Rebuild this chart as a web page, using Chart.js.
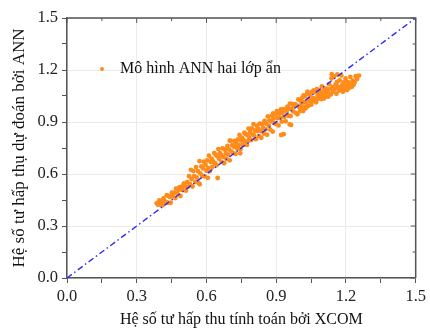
<!DOCTYPE html>
<html>
<head>
<meta charset="utf-8">
<script src="https://cdn.jsdelivr.net/npm/chart.js@4.4.0/dist/chart.umd.min.js"></script>
<style>
  body { margin: 0; background: #fff; }
  #wrap { width: 430px; height: 329px; }
</style>
</head>
<body>
<div id="wrap"><canvas id="annChart" width="430" height="329"></canvas></div>
<script>
// XCOM values (x) and ANN predictions (y)
const xcom = [
  0.386,0.391,0.397,0.402,0.404,0.411,0.415,0.418,0.424,0.429,0.432,0.437,0.443,0.446,0.451,
  0.455,0.462,0.466,0.469,0.474,0.480,0.483,0.488,0.494,0.497,0.503,0.508,0.512,0.517,0.521,
  0.525,0.529,0.533,0.536,0.540,0.544,0.547,0.552,0.555,0.558,0.563,0.566,0.570,0.573,0.578,
  0.581,0.585,0.589,0.592,0.596,0.600,0.603,0.607,0.611,0.614,0.618,0.622,0.625,0.629,0.633,
  0.637,0.640,0.644,0.647,0.651,0.654,0.658,0.648,0.606,0.571,
  0.662,0.665,0.669,0.672,0.676,0.679,0.683,0.686,0.690,0.693,0.697,0.700,0.704,0.707,0.711,
  0.714,0.718,0.721,0.725,0.728,0.732,0.735,0.739,0.742,0.746,0.749,0.753,0.756,0.760,0.763,
  0.767,0.770,0.774,0.777,0.781,0.784,0.788,0.791,0.795,0.798,0.802,0.805,0.809,0.812,0.816,
  0.819,0.700,0.745,0.781,0.727,
  0.822,0.826,0.829,0.833,0.836,0.840,0.843,0.847,0.850,0.854,0.857,0.861,0.864,0.868,0.871,
  0.875,0.878,0.882,0.885,0.889,0.892,0.896,0.899,0.903,0.906,0.910,0.913,0.917,0.920,0.924,
  0.927,0.931,0.934,0.938,0.941,0.945,0.948,0.952,0.955,0.959,0.962,0.966,0.969,0.973,0.976,
  0.921,0.932,0.964,0.958,0.887,
  0.981,0.984,0.988,0.991,0.995,0.998,1.002,1.005,1.009,1.012,1.016,1.019,1.023,1.026,1.030,
  1.033,1.037,1.040,1.044,1.047,1.051,1.054,1.058,1.061,1.065,1.068,1.072,1.075,1.079,1.082,
  1.086,1.089,1.093,1.096,1.100,1.103,1.107,1.110,1.114,1.117,1.008,1.027,1.049,1.071,1.092,
  1.035,1.062,1.018,1.084,1.105,
  1.121,1.124,1.128,1.131,1.135,1.138,1.142,1.145,1.149,1.152,1.156,1.159,1.163,1.166,1.170,
  1.173,1.177,1.180,1.184,1.187,1.191,1.194,1.198,1.201,1.205,1.208,1.212,1.215,1.219,1.222,
  1.226,1.229,1.233,1.237,1.242,1.248,1.256,1.139,1.162,1.181
];
const ann = [
  0.431,0.423,0.448,0.422,0.442,0.419,0.459,0.445,0.439,0.478,0.434,0.473,0.467,0.434,0.492,
  0.473,0.492,0.461,0.516,0.487,0.506,0.522,0.473,0.527,0.507,0.546,0.529,0.504,0.553,0.527,
  0.587,0.543,0.624,0.571,0.528,0.617,0.588,0.555,0.640,0.580,0.617,0.548,0.674,0.604,0.644,
  0.590,0.632,0.671,0.586,0.654,0.619,0.679,0.635,0.706,0.616,0.669,0.689,0.641,0.672,0.721,
  0.662,0.711,0.651,0.703,0.744,0.688,0.720,0.577,0.578,0.541,
  0.710,0.671,0.748,0.699,0.662,0.740,0.719,0.687,0.762,0.712,0.742,0.679,0.792,0.731,0.766,
  0.722,0.757,0.791,0.716,0.777,0.747,0.799,0.768,0.825,0.743,0.793,0.810,0.768,0.795,0.838,
  0.788,0.830,0.768,0.824,0.862,0.810,0.841,0.795,0.863,0.829,0.888,0.822,0.851,0.801,0.879,
  0.847,0.792,0.719,0.793,0.760,
  0.863,0.818,0.891,0.848,0.809,0.889,0.866,0.833,0.906,0.858,0.890,0.826,0.932,0.879,0.909,
  0.856,0.904,0.936,0.844,0.920,0.894,0.943,0.888,0.963,0.923,0.880,0.949,0.925,0.972,0.902,
  0.952,0.974,0.929,0.969,0.904,0.959,0.988,0.936,0.977,1.006,0.934,0.975,1.003,0.961,0.994,
  0.825,0.830,0.883,0.886,0.950,
  1.003,0.953,0.996,0.944,1.030,0.986,0.963,1.022,0.987,1.041,0.963,1.015,1.047,0.990,1.015,
  1.064,0.993,1.032,1.056,1.018,1.000,1.073,1.038,1.020,1.071,1.035,1.014,1.089,1.054,1.035,
  1.083,1.051,1.032,1.105,1.070,1.051,1.091,1.067,1.047,1.093,0.998,0.979,1.018,1.025,1.037,
  1.075,1.083,1.053,1.072,1.035,
  1.072,1.046,1.118,1.088,1.059,1.152,1.101,1.075,1.163,1.092,1.118,1.063,1.174,1.104,1.081,
  1.140,1.097,1.168,1.112,1.074,1.129,1.093,1.151,1.107,1.084,1.131,1.117,1.098,1.160,1.122,
  1.104,1.138,1.115,1.129,1.164,1.148,1.168,1.176,1.132,1.089
];

// y = x reference line
const refLine = [0, 1.5];

// ticks: labelled every 0.3, minor every 0.15
const tickValues = [0, 0.15, 0.3, 0.45, 0.6, 0.75, 0.9, 1.05, 1.2, 1.35, 1.5];
const majorTicks = [0, 0.3, 0.6, 0.9, 1.2, 1.5];

const legendText = 'Mô hình ANN hai lớp ẩn';
const xTitle = 'Hệ số tư hấp thu tính toán bởi XCOM';
const yTitle = 'Hệ số tư hấp thụ dự đoán bởi ANN';

const serif = "'Liberation Serif', 'Times New Roman', serif";
const orange = 'rgb(255,140,26)';

function isMajor(v) {
  return majorTicks.some(m => Math.abs(m - v) < 1e-6);
}

document.addEventListener("DOMContentLoaded", function () {
  const ctx = document.getElementById('annChart').getContext('2d');

  const points = xcom.map((x, i) => ({ x: x, y: ann[i] }));

  // frame on top/right with inward ticks + legend inside the plot
  const framePlugin = {
    id: 'frame',
    afterDatasetsDraw(chart) {
      const c = chart.ctx;
      const a = chart.chartArea;
      const xs = chart.scales.x, ys = chart.scales.y;
      c.save();
      c.strokeStyle = '#555';
      c.lineWidth = 1.5;
      c.beginPath();
      c.moveTo(a.left, a.top); c.lineTo(a.right, a.top); c.lineTo(a.right, a.bottom);
      c.stroke();
      c.lineWidth = 1;
      tickValues.forEach(v => {
        const len = isMajor(v) ? 5 : 3;
        const px = xs.getPixelForValue(v);
        const py = ys.getPixelForValue(v);
        c.beginPath();
        c.moveTo(px, a.top); c.lineTo(px, a.top + len);
        c.moveTo(a.right, py); c.lineTo(a.right - len, py);
        c.stroke();
      });
      // legend
      const lx = a.left + 35, ly = a.top + 51;
      c.fillStyle = orange;
      c.beginPath(); c.arc(lx, ly, 2, 0, Math.PI * 2); c.fill();
      c.fillStyle = '#111';
      c.font = '16px ' + serif;
      c.textBaseline = 'middle';
      c.fillText(legendText, lx + 18, ly);
      c.restore();
    }
  };

  const axis = (title) => ({
    type: 'linear',
    min: 0,
    max: 1.5,
    afterBuildTicks: s => { s.ticks = tickValues.map(v => ({ value: v })); },
    ticks: {
      autoSkip: false,
      padding: 4,
      color: '#222',
      font: { family: serif, size: 16.5 },
      callback: v => isMajor(v) ? v.toFixed(1) : ''
    },
    grid: {
      color: c => (c.tick && isMajor(c.tick.value)) ? '#ebebeb' : 'rgba(0,0,0,0)',
      tickColor: '#555',
      tickLength: 5,
      lineWidth: 1
    },
    border: { display: true, color: '#555', width: 1.5 },
    title: {
      display: true,
      text: title,
      color: '#111',
      font: { family: serif, size: 16 },
      padding: { top: 1, bottom: 0 }
    }
  });

  const xAxis = axis(xTitle);
  xAxis.afterFit = s => { s.height = 51; };
  const yAxis = axis(yTitle);
  yAxis.title.font = { family: serif, size: 17 };
  yAxis.title.padding = { top: 9, bottom: 0 };
  yAxis.afterFit = s => { s.width = 67; };

  const data = {
    datasets: [
      {
        label: 'y = x',
        type: 'line',
        data: refLine.map(v => ({ x: v, y: v })),
        borderColor: '#2b2bff',
        borderWidth: 1.4,
        borderDash: [6, 3, 1.5, 3],
        pointRadius: 0,
        fill: false,
        order: 0
      },
      {
        label: legendText,
        data: points,
        backgroundColor: orange,
        borderWidth: 0,
        pointRadius: 2.4,
        order: 1
      }
    ]
  };

  const config = {
    type: 'scatter',
    data: data,
    options: {
      responsive: false,
      animation: false,
      layout: { padding: { top: 18, right: 11, left: 0, bottom: 0 } },
      plugins: {
        legend: { display: false },
        tooltip: { enabled: false }
      },
      scales: { x: xAxis, y: yAxis }
    },
    plugins: [framePlugin]
  };

  new Chart(ctx, config);
});
</script>
</body>
</html>
